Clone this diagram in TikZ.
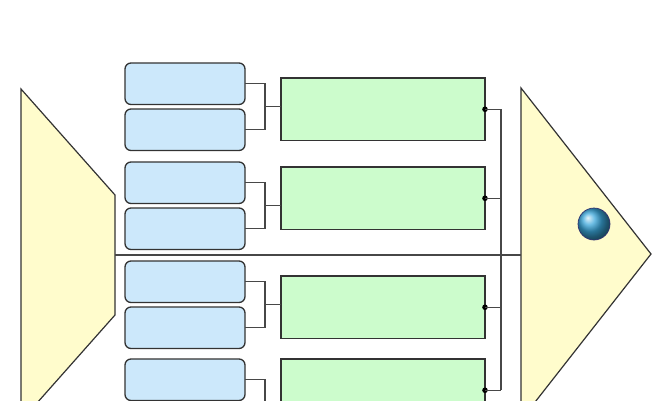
\documentclass[tikz,border=0pt]{standalone}
\usetikzlibrary{calc}
\definecolor{bluefill}{HTML}{CCE8FB}
\definecolor{greenfill}{HTML}{CCFCCC}
\definecolor{yellowfill}{HTML}{FFFCCC}
\definecolor{edge}{HTML}{333333}
\definecolor{eyecol}{HTML}{3AA6DA}
\tikzset{
  bluebox/.style={draw=edge, fill=bluefill, rounded corners=6pt, line width=1.3pt,
    minimum width=120pt, minimum height=41.5pt, inner sep=0pt, outer sep=0pt, anchor=north west},
  greenbox/.style={draw=edge, fill=greenfill, line width=1.2pt,
    minimum width=204pt, minimum height=62.5pt, inner sep=0pt, outer sep=0pt, anchor=north west},
  conn/.style={draw=edge!90, line width=1.3pt},
  fishpart/.style={fill=yellowfill, draw=edge, line width=1.2pt, line join=miter},
}
\begin{document}
\begin{tikzpicture}[x=1pt, y=-1pt]
\useasboundingbox (0,0) rectangle (667,400);
\clip (0,0) rectangle (667,400);
\fill[white] (0,0) rectangle (667,400);
% tail
\draw[fishpart] (21,89) -- (115,195) -- (115,315) -- (21,421) -- cycle;
% head
\draw[fishpart] (521,88) -- (651,254) -- (521,420) -- cycle;
% eye
\shade[ball color=eyecol] (594,224) circle (16);
\draw[blue!30!black!80, line width=0.7pt] (594,224) circle (16);
% spine
\coordinate (spineL) at (115,255);
\coordinate (spineR) at (521,255);
\draw[conn] (spineL) -- (spineR);
% blue boxes
\node[bluebox] (b1) at (125,63) {};
\node[bluebox] (b2) at (125,109) {};
\node[bluebox] (b3) at (125,162) {};
\node[bluebox] (b4) at (125,208) {};
\node[bluebox] (b5) at (125,261) {};
\node[bluebox] (b6) at (125,307) {};
\node[bluebox] (b7) at (125,359) {};
\node[bluebox] (b8) at (125,405) {};
% green boxes
\node[greenbox] (g1) at (281,78) {};
\node[greenbox] (g2) at (281,167) {};
\node[greenbox] (g3) at (281,276) {};
\node[greenbox] (g4) at (281,359) {};
% brackets
\foreach \a/\b/\g in {b1/b2/g1, b3/b4/g2, b5/b6/g3, b7/b8/g4}{
  \path let \p1=(\a.east), \p2=(\b.east) in coordinate (k\g) at (265,{(\y1+\y2)/2});
  \draw[conn] (\a.east) -| (k\g) |- (\b.east);
  \draw[conn] (k\g) -- (k\g -| \g.west);
}
% rail
\coordinate (railT) at (501,0);
\foreach \g in {g1,g2,g3,g4}{
  \fill[black] (\g.east) circle (2.8);
  \draw[conn] (\g.east) -- (\g.east -| railT);
}
\draw[conn] (g1.east -| railT) -- (g4.east -| railT);
\end{tikzpicture}
\end{document}
